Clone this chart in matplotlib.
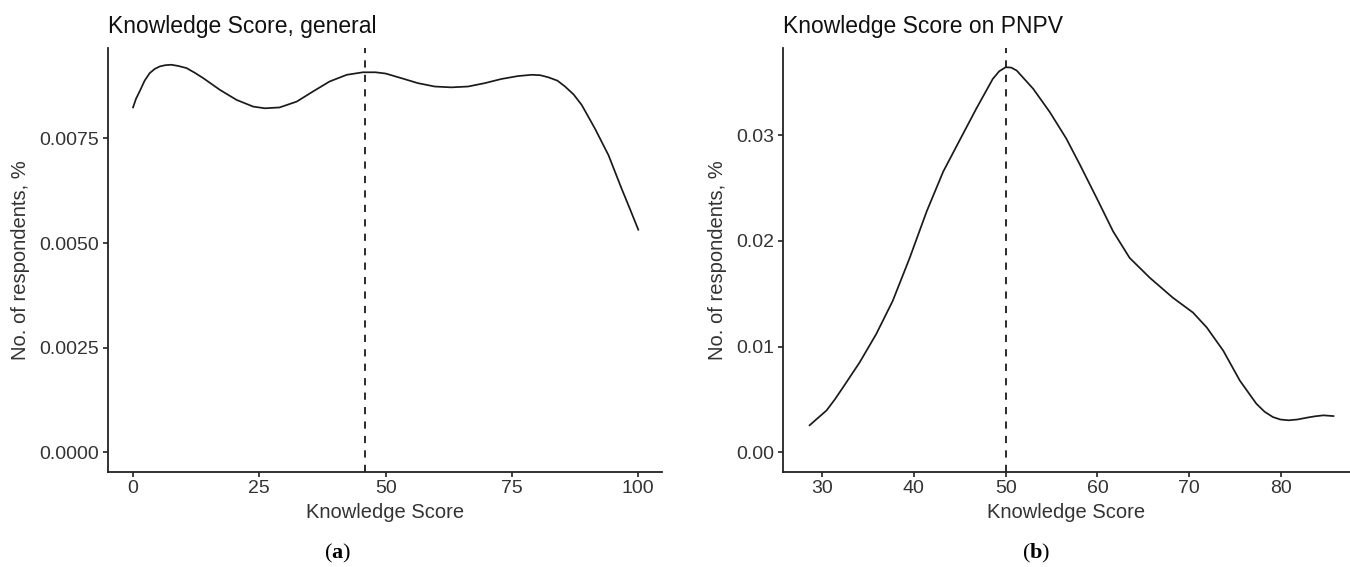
import matplotlib
matplotlib.use("Agg")
import matplotlib.pyplot as plt

# ---- data ----
gen_x = [0.0, 0.6, 1.3, 2.3, 3.3, 4.3, 5.3, 6.4, 7.6, 9.0, 10.6, 12.2, 13.9, 17.2, 20.5,
         23.8, 26.1, 29.0, 32.4, 35.6, 38.9, 42.3, 45.5, 48.0, 50.0, 53.1, 56.4, 59.7,
         63.0, 66.3, 69.6, 72.9, 76.2, 78.9, 80.6, 82.2, 84.0, 85.5, 87.2, 88.8, 91.4,
         94.1, 96.7, 98.4, 100.0]
gen_y = [0.00824, 0.00845, 0.00862, 0.00888, 0.00906, 0.00916, 0.00922, 0.00925, 0.00926,
         0.00923, 0.00918, 0.00907, 0.00894, 0.00866, 0.00842, 0.00826, 0.00822, 0.00824,
         0.00838, 0.00862, 0.00886, 0.00902, 0.00908, 0.00908, 0.00905, 0.00894, 0.00882,
         0.00874, 0.00872, 0.00874, 0.00882, 0.00892, 0.00899, 0.00902, 0.00901, 0.00896,
         0.00888, 0.00874, 0.00855, 0.00830, 0.00774, 0.00710, 0.00630, 0.00580, 0.00532]
gen_vline = 46.0
gen_xticks = [0, 25, 50, 75, 100]
gen_yticks = [0.0, 0.0025, 0.0050, 0.0075]
gen_yticklabels = ["0.0000", "0.0025", "0.0050", "0.0075"]

pnpv_x = [28.65, 29.5, 30.5, 31.4, 32.3, 34.1, 35.9, 37.7, 39.55, 41.4, 43.2, 45.0, 46.8,
          48.6, 49.3, 50.0, 50.6, 51.2, 53.0, 54.8, 56.6, 58.1, 60.1, 61.7, 63.5, 65.7,
          68.2, 70.4, 71.9, 73.7, 75.5, 77.3, 78.2, 79.1, 79.9, 80.8, 81.8, 82.8, 83.7,
          84.6, 85.7]
pnpv_y = [0.00257, 0.00322, 0.00398, 0.00502, 0.00617, 0.00852, 0.01119, 0.01433, 0.0184,
          0.0228, 0.02656, 0.02954, 0.03251, 0.03533, 0.03605, 0.03643, 0.03640, 0.03612,
          0.03439, 0.0322, 0.02969, 0.02719, 0.02373, 0.02091, 0.0184, 0.01652, 0.01464,
          0.01323, 0.01182, 0.00962, 0.0068, 0.00461, 0.00385, 0.00335, 0.00312, 0.00304,
          0.00312, 0.00329, 0.00342, 0.00351, 0.00344]
pnpv_vline = 50.0
pnpv_xticks = [30, 40, 50, 60, 70, 80]
pnpv_yticks = [0.00, 0.01, 0.02, 0.03]
pnpv_yticklabels = ["0.00", "0.01", "0.02", "0.03"]

titles = ["Knowledge Score, general", "Knowledge Score on PNPV"]
xlabel = "Knowledge Score"
ylabel = "No. of respondents, %"
panel_tags = ["a", "b"]

# ---- figure ----
W, H = 1350, 567
fig = plt.figure(figsize=(W / 100, H / 100), dpi=100)
plt.rcParams['font.family'] = ['Liberation Sans', 'DejaVu Sans']
plt.rcParams['mathtext.fontset'] = 'custom'
plt.rcParams['mathtext.rm'] = 'Liberation Serif'
plt.rcParams['mathtext.bf'] = 'Liberation Serif:bold'

def px2fx(px):
    return px / W

def py2fy(py):
    return 1 - py / H

bottom_px, top_px = 471.7, 48.0
axes_px = [(107.5, 662.3), (782.8, 1350.0)]

txtc = '#333333'
datasets = [
    (gen_x, gen_y, gen_vline, gen_xticks, gen_yticks, gen_yticklabels, (-5.05, 104.75), (-0.00046, 0.00966)),
    (pnpv_x, pnpv_y, pnpv_vline, pnpv_xticks, pnpv_yticks, pnpv_yticklabels, (25.73, 87.5), (-0.00182, 0.03825)),
]

for i, (xs, ys, vl, xt, yt, ytl, xl, yl) in enumerate(datasets):
    l, r = axes_px[i]
    ax = fig.add_axes([px2fx(l), py2fy(bottom_px), px2fx(r - l), (bottom_px - top_px) / H])
    ax.plot(xs, ys, color='#1a1a1a', lw=1.25, solid_joinstyle='round')
    ax.axvline(vl, color='#1a1a1a', lw=1.3, dashes=(4.0, 4.0))
    ax.set_xlim(*xl)
    ax.set_ylim(*yl)
    ax.set_xticks(xt)
    ax.set_yticks(yt)
    ax.set_yticklabels(ytl)
    for s in ['top', 'right']:
        ax.spines[s].set_visible(False)
    for s in ['left', 'bottom']:
        ax.spines[s].set_color('#222222')
        ax.spines[s].set_linewidth(1.3)
    ax.tick_params(length=3.5, width=1.2, color='#222222', labelsize=14,
                   labelcolor=txtc, pad=2.5)
    ax.set_title(titles[i], loc='left', fontsize=16.5, color='#111111', pad=10.5)
    cx = (l + r) / 2
    fig.text(px2fx(cx), py2fy(513), xlabel, ha='center', va='center', fontsize=14.5, color=txtc)
    ylx = 21 if i == 0 else 718
    fig.text(px2fx(ylx), py2fy((bottom_px + top_px) / 2), ylabel, ha='center', va='center',
             rotation=90, fontsize=14.5, color=txtc)

# panel tags
tag_x = [338, 1036]
for i, t in enumerate(panel_tags):
    fig.text(px2fx(tag_x[i]), py2fy(553), r"$\mathrm{(}\mathbf{" + t + r"}\mathrm{)}$",
             ha='center', va='center', fontsize=16, color='black')

fig.savefig("out.png", dpi=100)
